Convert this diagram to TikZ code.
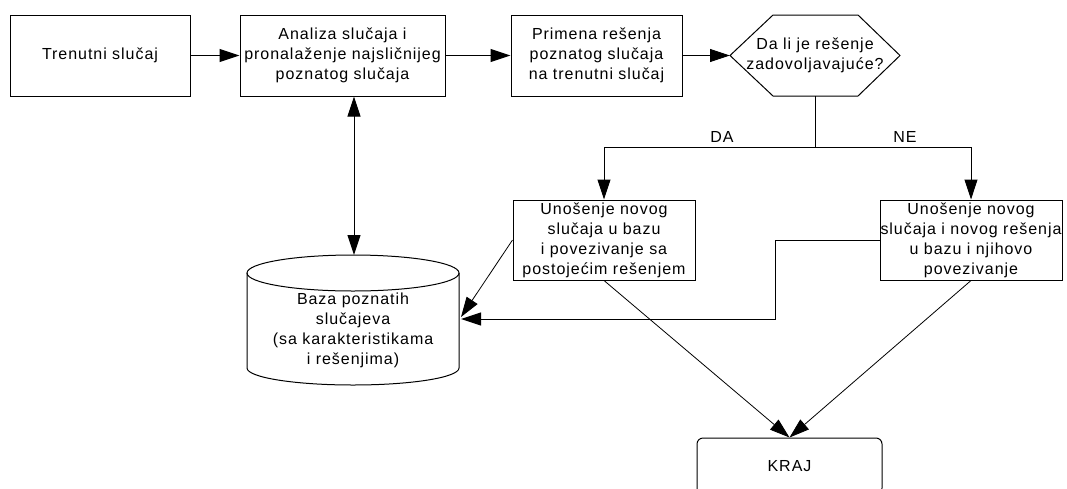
\documentclass[tikz,border=0pt]{standalone}
\usepackage{fontspec}
\setmainfont{Liberation Sans}[LetterSpace=6]
\usetikzlibrary{arrows.meta}
\begin{document}
\begin{tikzpicture}[x=1pt,y=-1pt,
  every node/.style={font=\fontsize{16}{20}\selectfont, align=center, inner sep=0pt},
  procbox/.style={draw, line width=1pt, rectangle},
  endbox/.style={draw, line width=1pt, rectangle, rounded corners=6pt},
  flow/.style={line width=1pt, -{Triangle[length=20pt,width=13pt]}},
  thinflow/.style={line width=0.8pt, -{Triangle[length=20pt,width=13pt]}},
  both/.style={line width=1pt, {Triangle[length=20pt,width=13pt]}-{Triangle[length=20pt,width=13pt]}},
  link/.style={line width=1pt}]
\fill[white] (0,0) rectangle (1067,488);
\useasboundingbox (0,0) rectangle (1067,488);
\clip (0,0) rectangle (1067,488);

% top row of steps
\node[procbox, minimum width=180, minimum height=81] (cur) at (100,55.5) {Trenutni slučaj};
\node[procbox, minimum width=205, minimum height=81] (ana) at (342.5,55.5)
  {Analiza slučaja i\\pronalaženje najsličnijeg\\poznatog slučaja};
\node[procbox, minimum width=171, minimum height=81] (app) at (596.5,55.5)
  {Primena rešenja\\poznatog slučaja\\na trenutni slučaj};

% decision hexagon
\node (q) at (815,55.5) {Da li je rešenje\\zadovoljavajuće?};
\coordinate (qw) at (730,55.5);
\coordinate (qs) at (815,96);
\draw[line width=1pt] (qw) -- (773,15) -- (858,15) -- (900,55.5) -- (858,96) -- (773,96) -- cycle;

% outcome boxes
\node[procbox, minimum width=182, minimum height=80] (da) at (604,240)
  {Unošenje novog\\slučaja u bazu\\i povezivanje sa\\postojećim rešenjem};
\node[procbox, minimum width=182, minimum height=80] (ne) at (971,240)
  {Unošenje novog\\slučaja i novog rešenja\\u bazu i njihovo\\povezivanje};

% end terminal
\node[endbox, minimum width=185, minimum height=56] (kraj) at (789.5,466) {KRAJ};

% database cylinder
\node (db) at (353,330) {Baza poznatih\\slučajeva\\(sa karakteristikama\\i rešenjima)};
\draw[line width=1pt] (247,273) -- (247,368) arc[start angle=180, end angle=360, x radius=106pt, y radius=17pt]
  -- (459,273);
\draw[line width=1pt] (353,273) ellipse [x radius=106pt, y radius=18pt];
\coordinate (dbtop) at (354,255);
\coordinate (dbin1) at (461,317);
\coordinate (dbin2) at (461,319);

% connectors
\draw[flow] (cur) -- (ana);
\draw[flow] (ana) -- (app);
\draw[flow] (app) -- (qw);
\draw[both] (dbtop |- ana.south) -- (dbtop);

\coordinate (split) at (815,147);
\draw[link] (qs) -- (split);
\draw[flow] (split) -| (da.north);
\draw[flow] (split) -| (ne.north);
\node at (722,137) {DA};
\node at (905,137) {NE};

\draw[thinflow] (da.west) -- (dbin1);
\coordinate (bend) at (775,319);
\draw[flow] (ne.west) -| (bend) -- (dbin2);

\draw[thinflow] (da.south) -- (kraj.north);
\draw[thinflow] (ne.south) -- (kraj.north);
\end{tikzpicture}
\end{document}
